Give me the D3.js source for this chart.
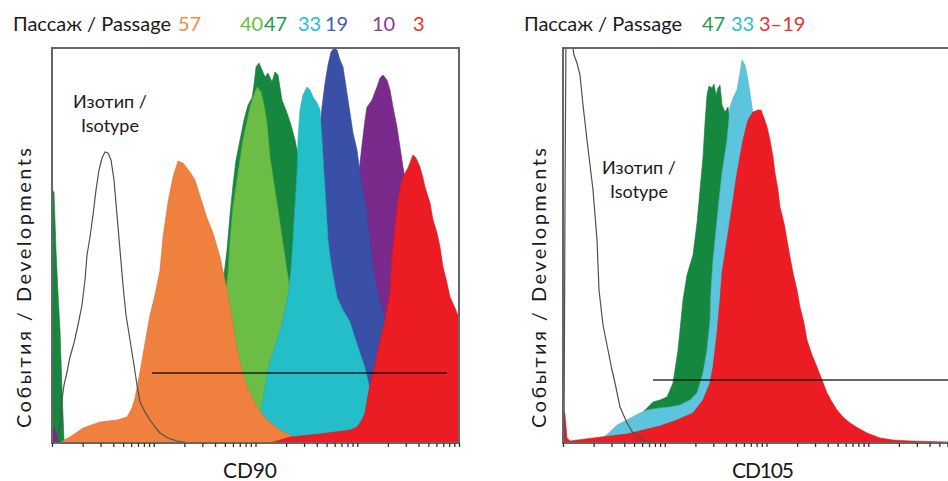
<!DOCTYPE html>
<html>
<head>
<meta charset="utf-8">
<script src="https://cdn.jsdelivr.net/npm/d3@7"></script>
<style>
  body { margin: 0; background: #fff; }
  text { font-family: Lato, "Open Sans", sans-serif; fill: #1a1a1a; }
</style>
</head>
<body>
<div id="chart"></div>
<script>
// ---- data: [channel, events] ----
// CD90 panel
const cd90Isotype = [[5,0],[8,18],[10,43],[12,58],[15,71],[18,86],[22,100],[26,118],[30,138],[33,163],[35,188],[38,206],[41,228],[44,253],[47,273],[50,285],[53,291],[56,290],[59,283],[62,263],[65,228],[68,193],[71,158],[74,128],[78,103],[82,78],[85,58],[88,41],[93,31],[98,23],[103,16],[108,10],[116,5],[125,2],[138,0]];
const cd90P57 = [[8,0],[12,3],[18,6],[31,15],[48,21],[65,23],[75,26],[80,35],[83,45],[88,71],[93,100],[98,128],[103,148],[108,173],[111,206],[116,241],[121,266],[126,282],[131,280],[138,271],[143,263],[148,247],[155,225],[161,210],[168,186],[175,153],[180,125],[185,93],[190,73],[195,56],[205,36],[215,23],[228,13],[238,8],[248,3],[258,0]];
const cd90P47 = [[0,253],[2,251],[4,193],[6,150],[8,113],[10,53],[12,3],[14,0],[153,0],[162,43],[166,113],[169,143],[172,168],[175,193],[178,228],[181,258],[184,283],[188,303],[192,323],[196,338],[200,345],[202,358],[204,376],[207,380],[210,373],[213,366],[216,370],[220,361],[223,371],[226,368],[230,343],[235,330],[239,318],[243,303],[247,283],[251,243],[255,183],[259,113],[263,43],[268,3],[273,0]];
const cd90P40 = [[143,0],[153,18],[161,48],[168,103],[173,143],[176,170],[178,203],[181,236],[186,270],[191,303],[198,336],[202,348],[205,356],[209,351],[212,338],[215,320],[218,286],[223,253],[228,220],[233,186],[238,153],[243,113],[248,63],[253,23],[260,3],[268,0]];
const cd90P33 = [[188,0],[198,8],[206,23],[210,38],[213,56],[216,73],[220,88],[225,103],[231,123],[236,148],[239,173],[241,203],[243,238],[245,270],[246,303],[248,333],[251,348],[255,356],[258,353],[261,346],[265,340],[268,333],[270,303],[272,270],[274,238],[276,203],[280,173],[285,146],[291,133],[298,121],[303,105],[308,90],[313,75],[317,58],[320,38],[322,18],[324,0]];
const cd90P19 = [[228,0],[238,23],[245,73],[251,143],[258,223],[264,283],[268,315],[270,336],[273,360],[276,378],[279,391],[282,395],[285,393],[288,383],[291,376],[293,363],[296,343],[298,330],[301,310],[305,293],[308,270],[311,253],[315,230],[318,203],[321,176],[326,150],[333,123],[340,93],[348,53],[358,18],[368,0]];
const cd90P10 = [[0,18],[3,13],[6,3],[8,0],[248,0],[268,23],[283,63],[293,123],[300,193],[305,253],[310,298],[313,323],[315,336],[318,340],[320,343],[323,351],[325,356],[328,365],[331,368],[335,363],[338,353],[341,336],[345,316],[348,296],[351,276],[355,253],[360,223],[366,183],[373,133],[380,73],[388,23],[398,0]];
const cd90P3 = [[218,0],[228,3],[238,6],[248,7],[268,9],[283,11],[291,12],[298,13],[305,16],[310,23],[313,30],[316,48],[319,63],[323,78],[328,103],[333,123],[338,150],[340,186],[343,216],[346,243],[350,263],[353,270],[356,275],[359,283],[361,288],[364,285],[368,276],[371,265],[373,256],[378,240],[381,223],[385,210],[388,196],[391,176],[395,160],[398,146],[403,135],[407,125]];
const cd90Gate = [100, 395, 70];   // from channel, to channel, level

// CD105 panel
const cd105Isotype = [[1,0],[2,243],[3,413],[5,450],[8,408],[11,388],[14,380],[17,368],[20,338],[24,303],[27,278],[30,253],[34,203],[36,153],[40,118],[45,93],[49,73],[52,60],[57,36],[64,20],[70,10],[80,3],[92,0]];
const cd105P47 = [[37,0],[57,8],[72,23],[84,35],[90,41],[97,43],[104,46],[110,60],[115,93],[120,143],[124,168],[130,188],[134,220],[137,253],[140,286],[142,320],[144,348],[146,357],[149,355],[151,359],[153,348],[155,355],[157,358],[159,338],[162,331],[165,336],[169,303],[174,243],[179,163],[185,83],[192,23],[199,0]];
const cd105P33 = [[27,0],[37,3],[47,11],[54,18],[64,23],[77,30],[84,33],[97,35],[107,36],[117,38],[127,43],[134,50],[137,60],[140,70],[144,93],[147,123],[148,153],[150,183],[153,213],[156,243],[159,270],[164,303],[167,336],[170,345],[174,353],[177,370],[179,383],[182,378],[185,363],[189,336],[193,308],[197,273],[203,213],[209,153],[217,93],[227,43],[237,13],[247,0]];
const cd105P3to19 = [[0,36],[2,28],[4,5],[7,2],[30,5],[64,9],[97,17],[114,23],[130,30],[140,43],[147,60],[150,76],[154,110],[157,143],[159,170],[164,203],[169,236],[174,270],[180,303],[185,323],[190,331],[195,333],[198,333],[201,325],[204,316],[207,303],[210,286],[212,270],[215,253],[217,236],[221,220],[224,203],[227,186],[230,170],[234,153],[237,136],[241,120],[244,103],[249,88],[254,76],[259,63],[264,50],[269,41],[274,33],[280,26],[287,20],[295,15],[304,10],[317,5],[330,3],[347,2],[385,1],[407,1]];
const cd105Gate = [90, 407, 63];

// legend labels
const cd90Passages = ["57", "40", "47", "33", "19", "10", "3"];
const cd105Passages = ["47", "33", "3–19"];

const C = {
  orange: "#f0803e", lgreen: "#6cbd45", dgreen: "#16873f", cyan: "#23bec8",
  blue: "#3a4fa6", purple: "#7a2a8b", red: "#ec1c24", lcyan: "#5cc4dc"
};

const W = 948, H = 481;
const svg = d3.select("#chart").append("svg").attr("width", W).attr("height", H);

const CH = 407, EV = 395;   // channel / event ranges of each plot

function drawPanel(cfg) {
  const g = svg.append("g").attr("transform", `translate(${cfg.left}, ${cfg.top})`);
  const x = d3.scaleLinear().domain([0, CH]).range([0, cfg.width]);
  const y = d3.scaleLinear().domain([0, EV]).range([cfg.height, 0]);

  g.append("clipPath").attr("id", cfg.id + "-clip")
    .append("rect").attr("width", cfg.width).attr("height", cfg.height);
  const plot = g.append("g").attr("clip-path", `url(#${cfg.id}-clip)`);

  const area = d3.area().x(d => x(d[0])).y0(y(0)).y1(d => y(d[1]));
  const line = d3.line().x(d => x(d[0])).y(d => y(d[1]));

  // filled histograms, back to front
  cfg.series.forEach(s => {
    plot.append("path").datum(s.data)
      .attr("d", area)
      .attr("fill", s.color)
      .attr("stroke", d3.color(s.color).darker(0.3))
      .attr("stroke-width", 0.6);
  });

  // isotype control outline
  plot.append("path").datum(cfg.isotype)
    .attr("d", line)
    .attr("fill", "none")
    .attr("stroke", "#505050")
    .attr("stroke-width", 1.2);

  // gate marker
  plot.append("line")
    .attr("x1", x(cfg.gate[0])).attr("x2", x(cfg.gate[1]))
    .attr("y1", y(cfg.gate[2])).attr("y2", y(cfg.gate[2]))
    .attr("stroke", "#000").attr("stroke-opacity", 0.6).attr("stroke-width", 2);

  // frame
  g.append("rect").attr("width", cfg.width).attr("height", cfg.height)
    .attr("fill", "none").attr("stroke", "#666").attr("stroke-width", 2);

  // log decade ticks along the bottom
  const xl = d3.scaleLog().domain([1, 1e4]).range([0, cfg.width]);
  const tv = [];
  for (let k = 0; k < 4; k++) for (let m = 1; m < 10; m++) tv.push(m * Math.pow(10, k));
  tv.push(1e4);
  const ax = g.append("g").attr("transform", `translate(0, ${cfg.height})`)
    .call(d3.axisBottom(xl).tickValues(tv).tickSize(4).tickFormat(""));
  ax.select(".domain").remove();
  ax.selectAll("line").attr("stroke", "#333").attr("stroke-width", 1.3);

  // isotype label
  const lab = svg.append("text").attr("text-anchor", "middle").style("font-size", "18px");
  lab.append("tspan").attr("x", cfg.isoLabel[0]).attr("y", cfg.isoLabel[1]).text("Изотип  /");
  lab.append("tspan").attr("x", cfg.isoLabel[0]).attr("dy", 24).text("Isotype");

  // axis titles
  svg.append("text")
    .attr("transform", `translate(${cfg.yLabel[0]}, ${cfg.yLabel[1]}) rotate(-90)`)
    .attr("text-anchor", "middle").style("font-size", "20px")
    .attr("textLength", 280).attr("lengthAdjust", "spacing")
    .text("События  /  Developments");
  svg.append("text").attr("x", cfg.xLabel[0]).attr("y", cfg.xLabel[1])
    .attr("text-anchor", "middle").style("font-size", "21px")
    .attr("textLength", cfg.xLabel[2]).attr("lengthAdjust", "spacing")
    .text(cfg.marker);

  // passage legend
  const leg = svg.append("text").attr("y", 31).style("font-size", "20px");
  leg.append("tspan").attr("x", cfg.legendX).text("Пассаж / Passage");
  cfg.passages.forEach((p, i) => {
    leg.append("tspan").attr("x", cfg.passX[i]).style("fill", cfg.passColors[i]).text(p);
  });
}

drawPanel({
  id: "cd90", left: 52, top: 48, width: 407, height: 395, marker: "CD90",
  series: [
    { data: cd90P47, color: C.dgreen },
    { data: cd90P40, color: C.lgreen },
    { data: cd90P10, color: C.purple },
    { data: cd90P19, color: C.blue },
    { data: cd90P33, color: C.cyan },
    { data: cd90P57, color: C.orange },
    { data: cd90P3, color: C.red }
  ],
  isotype: cd90Isotype, gate: cd90Gate,
  isoLabel: [110, 108], yLabel: [31, 288], xLabel: [250, 478, 54],
  legendX: 13, passages: cd90Passages,
  passX: [178, 240, 264, 298, 325, 372, 413],
  passColors: ["#f58a4b", "#6abd45", "#1e9a50", "#26c0cb", "#4060b0", "#8b3a94", "#ee3030"]
});

drawPanel({
  id: "cd105", left: 563, top: 48, width: 407, height: 395, marker: "CD105",
  series: [
    { data: cd105P47, color: C.dgreen },
    { data: cd105P33, color: C.lcyan },
    { data: cd105P3to19, color: C.red }
  ],
  isotype: cd105Isotype, gate: cd105Gate,
  isoLabel: [639, 174], yLabel: [546, 288], xLabel: [763, 478, 62],
  legendX: 524, passages: cd105Passages,
  passX: [702, 731, 759],
  passColors: ["#1e9a50", "#26c0cb", "#ee3030"]
});
</script>
</body>
</html>
